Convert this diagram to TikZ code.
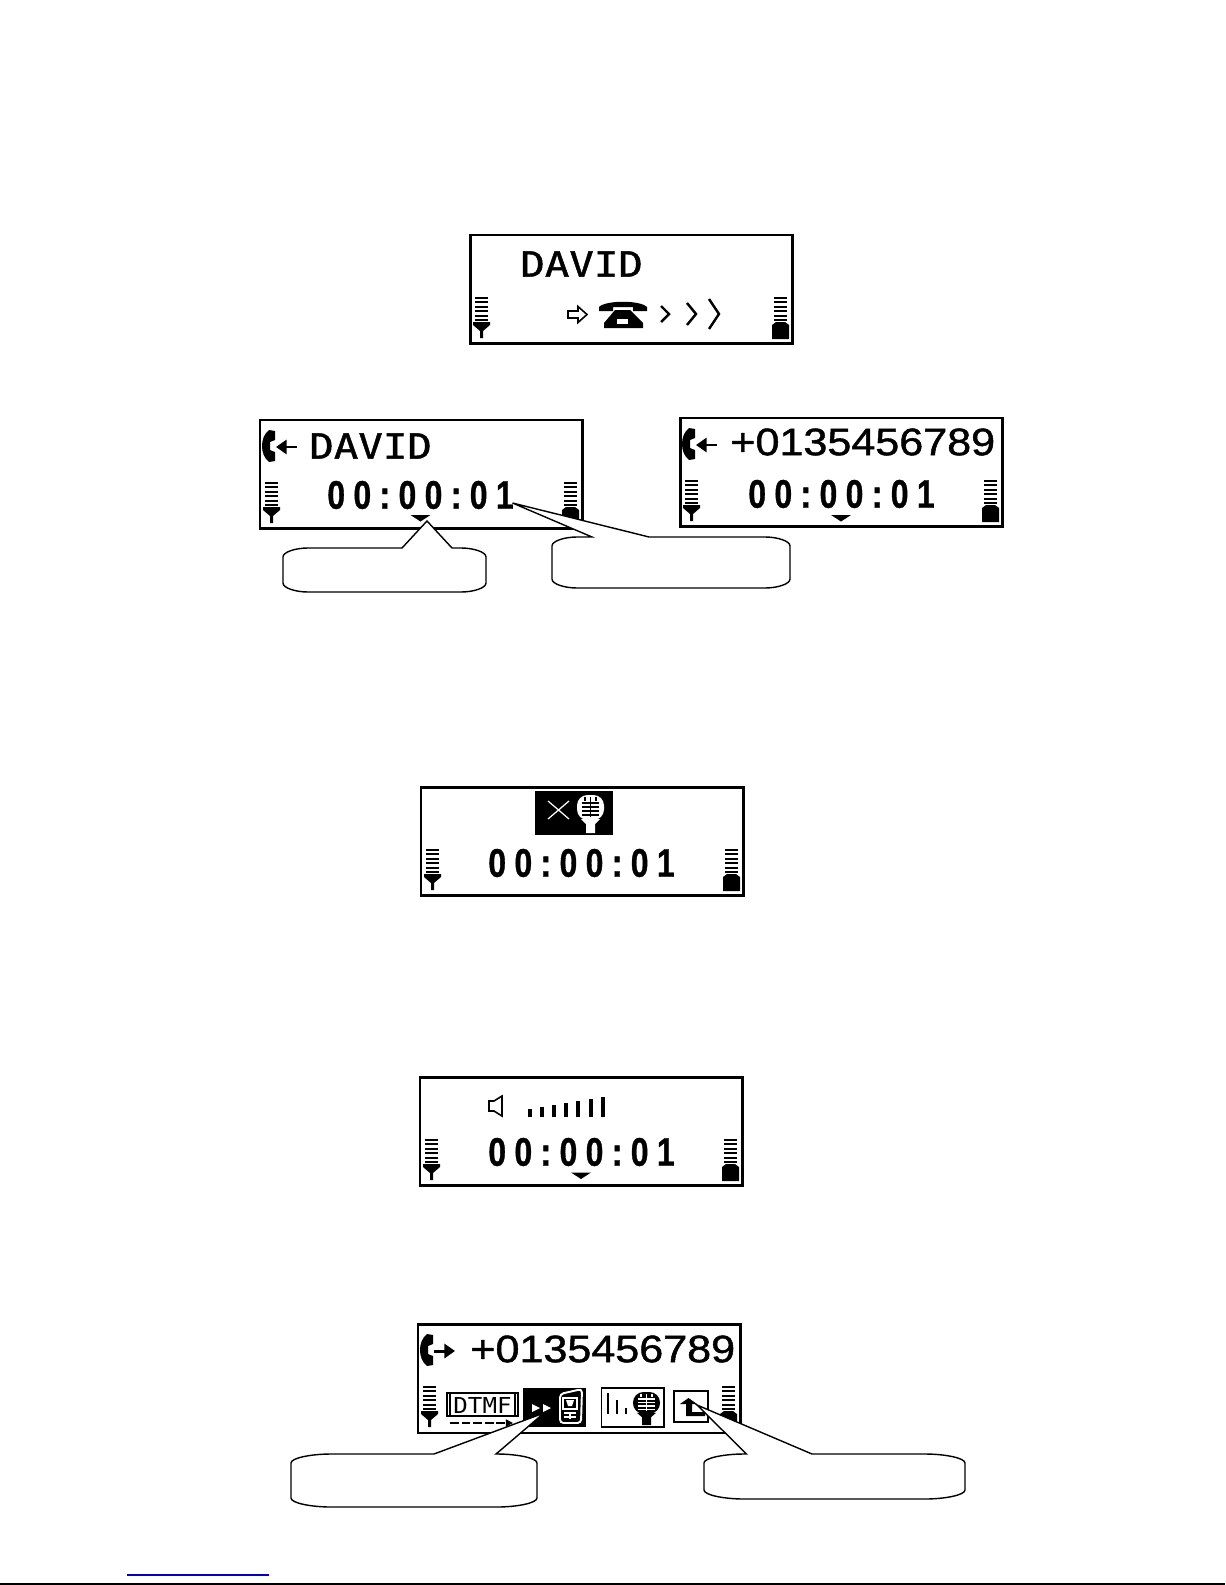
\documentclass[tikz,border=0pt]{standalone}
\usepackage{fontspec}
\usetikzlibrary{arrows.meta}
\newfontfamily\lcdname[FakeStretch=1.17,FakeBold=1.2]{DejaVu Sans Mono}
\newfontfamily\lcdsmall[FakeStretch=1.1]{DejaVu Sans Mono}
\newfontfamily\lcdnumber[FakeStretch=1.125,FakeBold=1.2]{Liberation Sans}
\newfontfamily\lcdtime[FakeStretch=0.8,FakeBold=0.8,LetterSpace=21]{Liberation Sans}
\definecolor{linkblue}{RGB}{0,0,204}
\tikzset{
  lcd/.style={draw, line width=1.7pt, minimum width=6.46cm, minimum height=2.18cm, outer sep=0pt, inner sep=0pt, anchor=north west},
  nametext/.style={anchor=west, inner sep=0pt, font=\lcdname\fontsize{19.8pt}{20pt}\selectfont},
  numbertext/.style={anchor=west, inner sep=0pt, font=\lcdnumber\fontsize{21.8pt}{22pt}\selectfont},
  timetext/.style={anchor=west, inner sep=0pt, font=\lcdtime\bfseries\fontsize{22.7pt}{23pt}\selectfont},
  lcdicons/.pic={
    \foreach \y in {63,67.4,...,85} {
      \draw[line width=1.2pt] (5,\y) -- (18,\y);
      \draw[line width=1.2pt] (304,\y) -- (317,\y);
    }
    \fill (3,87) -- (20,87) -- (20,90) -- (13,96) -- (13,103) -- (10,103) -- (10,96) -- (3,90) -- cycle;
    \fill (306,87) -- (315,87) -- (319,90) -- (319,104) -- (302,104) -- (302,90) -- cycle;
  },
  handset/.pic={
    \fill (9,10) -- (15,11) -- (15,20) -- (10,22) -- (10,30) -- (15,32) -- (15,41) -- (9,42) .. controls (4,38) and (2,32) .. (2,26) .. controls (2,20) and (4,14) .. (9,10) -- cycle;
  },
  marker/.pic={
    \fill (0,0) -- (20,0) -- (10,6.5) -- cycle;
  }
}
\newcommand{\bubble}[9]{
  \draw[fill=white, line width=0.8pt] (#1,{#2+9}) .. controls (#1,{#2+4}) and ({#1+#9*0.5},#2) .. ({#1+#9},#2) -- (#5,#2) -- (#7,#8) -- (#6,#2) -- ({#3-#9},#2) .. controls ({#3-#9*0.5},#2) and (#3,{#2+4}) .. (#3,{#2+9}) -- (#3,{#4-9}) .. controls (#3,{#4-4}) and ({#3-#9*0.5},#4) .. ({#3-#9},#4) -- ({#1+#9},#4) .. controls ({#1+#9*0.5},#4) and (#1,{#4-4}) .. (#1,{#4-9}) -- cycle;
}
\newcommand{\micicon}[3]{
  \begin{scope}[#1]
    \fill[#2, rounded corners=6] (0,0) rectangle (27,25);
    \fill[#2] (4,24) -- (9,29) -- (9,38) -- (18,38) -- (18,29) -- (23,24) -- cycle;
    \foreach \y in {8,12,16,20}
      \draw[#3, line width=0.9pt] (5,\y) -- (22,\y);
    \foreach \x in {8,13.5,19}
      \draw[#3, line width=0.9pt] (\x,2) -- (\x,6);
    \draw[#3, line width=0.9pt] (13.5,6) -- (13.5,22);
  \end{scope}
}
\begin{document}
\begin{tikzpicture}[x=0.02cm, y=-0.02cm]
\useasboundingbox (0,0) rectangle (1225,1585);

\node[lcd] (ringscreen) at (470,235) {};
\pic at (ringscreen.north west) {lcdicons};
\node[nametext] (ringname) at (520,264) {DAVID};
\draw[line width=0.9pt] (568,311) -- (578,311) -- (578,306.5) -- (587,314.5) -- (578,322.5) -- (578,318) -- (568,318) -- cycle;
\fill (599,311) -- (599,307) .. controls (606,300) and (640,300) .. (647,307) -- (647,311) -- (633,311) -- (633,307) -- (613,307) -- (613,311) -- cycle;
\fill (615,310) -- (630,310) -- (643,323) -- (643,328) -- (604,328) -- (604,323) -- cycle;
\fill[white] (617,319) rectangle (628,324);
\foreach \x/\w/\h in {661/8/8, 687/9/11, 709/10/15}
  \draw[line width=1.4pt] (\x,{314-\h}) -- ({\x+\w},314) -- (\x,{314+\h});

\node[lcd] (answername) at (260,420) {};
\pic at (answername.north west) {lcdicons};
\pic at (answername.north west) {handset};
\draw[line width=1.7pt, -{Triangle[length=6pt,width=8pt]}] (297,447) -- (276,447);
\node[nametext] (callername) at (309,446) {DAVID};
\node[timetext] (nametime) at (327,495) {00:00:01};
\pic at (410.5,515) {marker};

\node[lcd] (answernumber) at (680,418) {};
\pic at (answernumber.north west) {lcdicons};
\pic at (answernumber.north west) {handset};
\draw[line width=1.7pt, -{Triangle[length=6pt,width=8pt]}] (717,445) -- (696,445);
\node[numbertext] (callernumber) at (730,442) {+0135456789};
\node[timetext] (numbertime) at (748,494) {00:00:01};
\pic at (831,515) {marker};

\bubble{283}{548}{486}{592}{402}{452}{427}{521}{25}
\bubble{552}{537}{790}{588}{592}{649}{512.5}{503}{25}

\node[lcd] (mutescreen) at (421,787) {};
\pic at (mutescreen.north west) {lcdicons};
\fill (535,791) rectangle (613,835);
\draw[white, line width=0.7pt] (548,801) -- (569,819) (548,819) -- (569,801);
\micicon{shift={(577,795)}}{white}{black}
\node[timetext] (mutetime) at (488,863) {00:00:01};

\node[lcd] (volumescreen) at (420,1077) {};
\pic at (volumescreen.north west) {lcdicons};
\draw[line width=0.9pt] (489,1101) -- (494,1101) -- (502,1096) -- (502,1116) -- (494,1111) -- (489,1111) -- cycle;
\foreach \i in {0,...,6}
  \fill ({528+12.1*\i},1117) rectangle ({532+12.1*\i},{1108.5-1.85*\i});
\node[timetext] (volumetime) at (488,1152) {00:00:01};
\pic at (571,1172.5) {marker};

\node[lcd] (optionscreen) at (418,1324) {};
\pic at (optionscreen.north west) {lcdicons};
\pic at (optionscreen.north west) {handset};
\draw[line width=1.7pt, -{Triangle[length=6pt,width=8pt]}] (434,1351) -- (455,1351);
\node[numbertext] (dialnumber) at (470,1349) {+0135456789};
\draw[line width=1pt] (447,1393) rectangle (518,1416);
\draw[line width=1.6pt] (450,1394) -- (450,1415) (515,1394) -- (515,1415);
\node[anchor=center, inner sep=0pt, font=\lcdsmall\fontsize{12.5pt}{13pt}\selectfont] (dtmflabel) at (482.5,1405) {DTMF};
\draw[line width=0.9pt, dash pattern=on 5pt off 1.6pt, -{Triangle[length=4pt,width=4pt]}] (450,1423) -- (513,1423);
\fill (523,1388) rectangle (586,1427);
\fill[white] (532,1404) -- (540,1408) -- (532,1412) -- cycle;
\fill[white] (543,1404) -- (551,1408) -- (543,1412) -- cycle;
\draw[white, line width=1.1pt, rounded corners=2] (560,1394) -- (582,1389) -- (581,1423) -- (560,1423) -- cycle;
\draw[white, line width=0.9pt] (563,1398) rectangle (577,1409);
\fill[white] (566,1400) -- (574,1400) -- (572,1406) -- (568,1406) -- cycle;
\draw[white, line width=0.7pt] (564,1413) -- (576,1413) (564,1417) -- (576,1417) (570,1412) -- (570,1419);
\draw[line width=1.1pt] (601.5,1388) rectangle (664,1427);
\fill (607,1393) rectangle (609,1414);
\fill (616,1400) rectangle (618,1414);
\fill (625,1408) rectangle (627,1414);
\micicon{shift={(633,1392)}, yscale=0.87}{black}{white}
\draw[line width=0.9pt] (674,1391) rectangle (708,1422);
\fill (688.5,1398) -- (697,1404) -- (692,1404) -- (692,1412) -- (705,1412) -- (705,1416) -- (686,1416) -- (686,1404) -- (680,1404) -- cycle;

\bubble{291}{1454}{537}{1507}{434}{496}{544}{1413}{40}
\bubble{704}{1454}{965}{1499}{746.5}{812}{697}{1405}{40}

\draw[linkblue, line width=0.9pt] (127,1575) -- (269,1575);
\draw[line width=1.2pt] (0,1584) -- (1225,1584);
\end{tikzpicture}
\end{document}
